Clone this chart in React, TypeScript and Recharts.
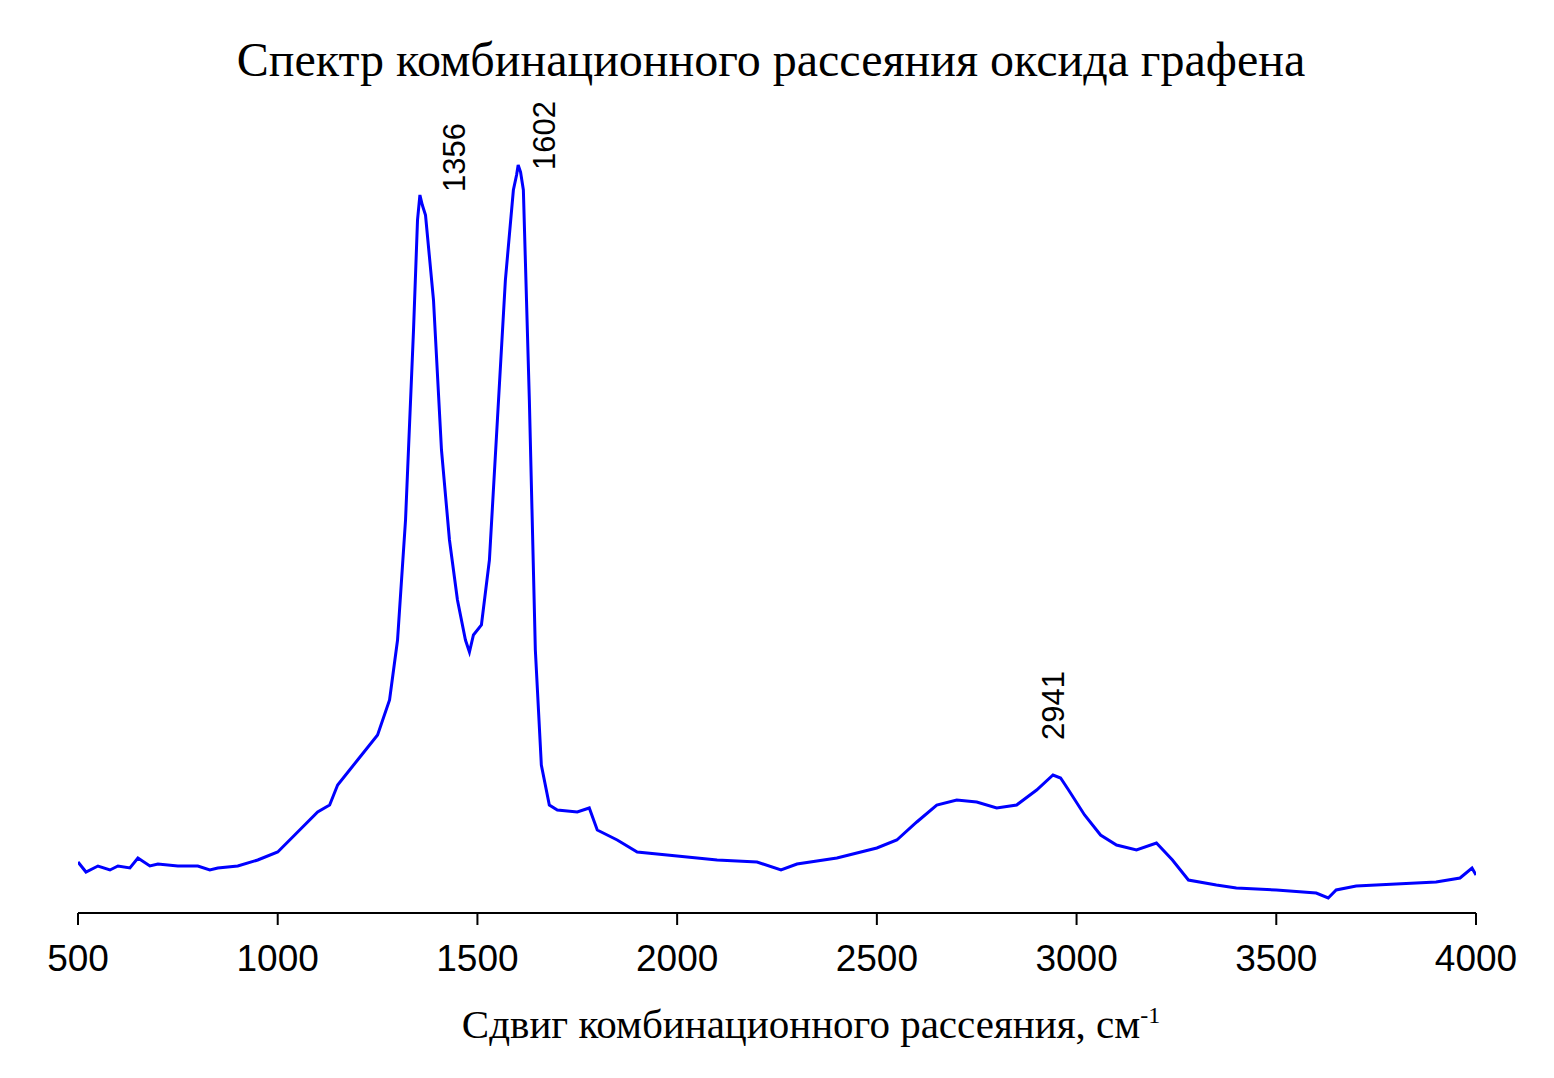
import React from "react";
import { LineChart, Line, XAxis, YAxis, ReferenceDot } from "recharts";

const shifts = [500,520,550,580,600,630,650,680,700,750,800,830,850,900,950,1000,1050,1100,1130,1150,1180,1200,1250,1280,1300,1320,1340,1350,1356,1362,1370,1390,1410,1430,1450,1470,1480,1490,1510,1530,1550,1570,1590,1598,1602,1608,1615,1630,1645,1660,1680,1700,1750,1780,1800,1850,1900,2000,2100,2200,2260,2300,2400,2500,2550,2600,2650,2700,2750,2800,2850,2900,2941,2960,2980,3020,3060,3100,3150,3200,3240,3280,3350,3400,3500,3600,3630,3650,3700,3800,3900,3960,3990,4000];
const pixelY = [862,872,866,870,866,868,858,866,864,866,866,870,868,866,860,852,832,812,805,785,770,760,735,700,640,520,330,220,195,205,215,300,450,540,600,640,652,635,625,560,420,280,190,175,165,172,190,400,650,765,805,810,812,808,830,840,852,856,860,862,870,864,858,848,840,822,805,800,802,808,805,790,775,778,790,815,835,845,850,843,860,880,885,888,890,893,898,890,886,884,882,878,868,875];
const intensity = pixelY.map(p => 913 - p);
const data = shifts.map((x, i) => ({ x, y: intensity[i] }));

const majorTicks = [500,1000,1500,2000,2500,3000,3500,4000];
const minorTicks = [750,1250,1750,2250,2750,3250,3750];
const peaks = [
  { x: 1356, y: 913 - 195, label: "1356", dx: 35, dy: -3 },
  { x: 1602, y: 913 - 165, label: "1602", dx: 26, dy: 5 },
  { x: 2941, y: 913 - 775, label: "2941", dx: 0, dy: -35 },
];

const peakLabel = (p: any) => (props: any) => {
  const vb = props.viewBox || {};
  const cx = vb.x + (vb.width || 0) / 2 + p.dx;
  const cy = vb.y + (vb.height || 0) / 2 + p.dy;
  return (
    <text x={cx} y={cy} transform={`rotate(-90 ${cx} ${cy})`} textAnchor="start" dominantBaseline="central"
      fontFamily="Liberation Sans, Arial" fontSize={31} fill="#000">{p.label}</text>
  );
};

export default function App() {
  return (
    <div style={{ position: "relative", width: 1554, height: 1078, margin: -8, background: "#fff" }}>
      <div style={{ position: "absolute", top: 32, left: 0, width: 1542, textAlign: "center", fontFamily: "Liberation Serif, Times New Roman", fontSize: 48 }}>
        Спектр комбинационного рассеяния оксида графена
      </div>
      <div style={{ position: "absolute", top: 1000, left: 0, width: 1622, textAlign: "center", fontFamily: "Liberation Serif, Times New Roman", fontSize: 41 }}>
        Сдвиг комбинационного рассеяния, см<sup style={{ fontSize: 24 }}>-1</sup>
      </div>
      <div style={{ position: "absolute", top: 0, left: 0 }}>
        <LineChart width={1554} height={1078} data={data} margin={{ top: 113, right: 78, bottom: 134, left: 78 }}>
          <XAxis dataKey="x" type="number" domain={[500, 4000]} ticks={majorTicks} tickSize={12}
            stroke="#000" strokeWidth={2} tick={{ fill: "#000", fontSize: 37, fontFamily: "Liberation Sans, Arial" }}
            tickMargin={20} interval={0} allowDataOverflow />
          <XAxis xAxisId="minor" dataKey="x" type="number" domain={[500, 4000]} ticks={minorTicks} tickSize={6}
            axisLine={false} stroke="#000" strokeWidth={2} tick={false} interval={0} height={1} />
          <YAxis hide domain={[0, 800]} />
          <Line dataKey="y" stroke="#0000ff" strokeWidth={3} dot={false} isAnimationActive={false} type="linear" />
          {peaks.map(p => (
            <ReferenceDot key={p.label} x={p.x} y={p.y} r={0} fill="none" stroke="none" label={peakLabel(p)} />
          ))}
        </LineChart>
      </div>
    </div>
  );
}
